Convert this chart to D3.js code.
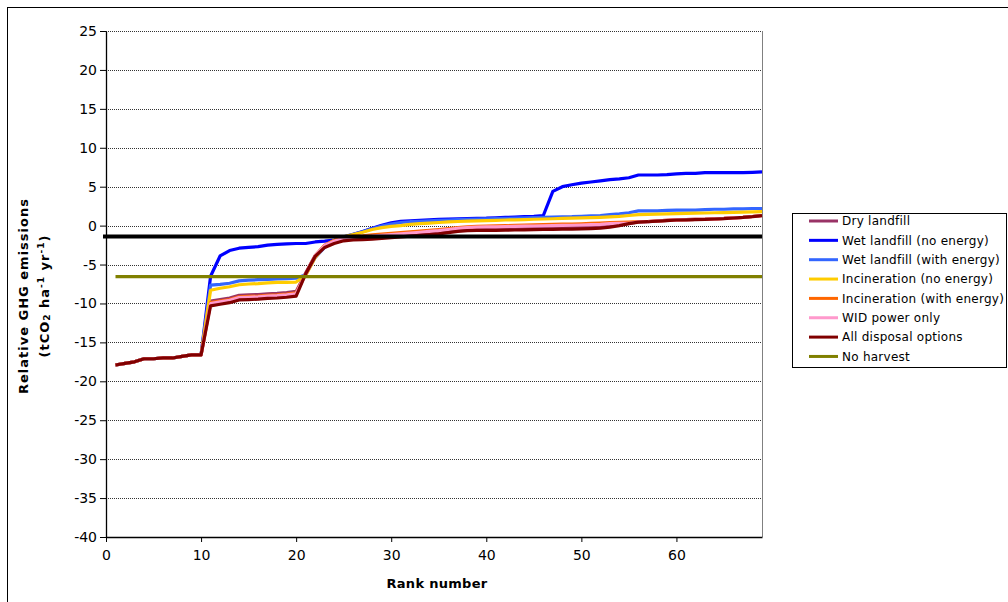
<!DOCTYPE html>
<html>
<head>
<meta charset="utf-8">
<script src="https://cdn.jsdelivr.net/npm/d3@7"></script>
<style>
  body { margin: 0; background: #fff; }
  svg { display: block; font-family: "DejaVu Sans", Verdana, sans-serif; }
</style>
</head>
<body>
<svg id="chart" width="1008" height="602"></svg>
<script>
// Rank numbers 1..69 on the horizontal axis
const ranks = d3.range(1, 70);

// Relative GHG emissions (tCO2 ha-1 yr-1) for each rank
const dryLandfill = [
  -17.9,-17.7,-17.5,-17.1,-17.1,-17.0,-17.0,-16.8,-16.6,-16.6,
  -9.7,-9.5,-9.3,-8.95,-8.9,-8.85,-8.75,-8.7,-8.6,-8.45,
  -6.1,-3.85,-2.6,-2.1,-1.7,-1.55,-1.5,-1.45,-1.35,-1.25,
  -1.15,-1.05,-0.95,-0.85,-0.75,-0.6,-0.45,-0.35,-0.3,-0.3,
  -0.3,-0.28,-0.26,-0.24,-0.22,-0.2,-0.18,-0.16,-0.15,-0.12,
  -0.08,-0.03,0.05,0.1,0.28,0.47,0.52,0.6,0.67,0.74,
  0.77,0.8,0.82,0.87,0.92,1.0,1.07,1.17,1.3
];
const wetLandfillNoEnergy = [
  -17.9,-17.7,-17.5,-17.1,-17.1,-17.0,-17.0,-16.8,-16.6,-16.6,
  -6.5,-3.9,-3.2,-2.9,-2.8,-2.7,-2.5,-2.4,-2.35,-2.3,
  -2.3,-2.1,-2.0,-1.85,-1.45,-1.1,-0.75,-0.35,0.05,0.35,
  0.55,0.62,0.68,0.75,0.8,0.85,0.88,0.9,0.93,0.95,
  1.0,1.05,1.1,1.15,1.2,1.3,4.4,5.0,5.25,5.45,
  5.6,5.75,5.9,6.0,6.15,6.5,6.5,6.5,6.55,6.65,
  6.7,6.7,6.8,6.8,6.8,6.8,6.8,6.85,6.9
];
const wetLandfillWithEnergy = [
  -17.9,-17.7,-17.5,-17.1,-17.1,-17.0,-17.0,-16.8,-16.6,-16.6,
  -7.65,-7.55,-7.4,-7.1,-7.0,-6.95,-6.9,-6.85,-6.8,-6.75,
  -6.3,-4.1,-2.8,-2.0,-1.5,-1.15,-0.8,-0.4,-0.05,0.2,
  0.4,0.5,0.55,0.62,0.67,0.72,0.76,0.8,0.83,0.86,
  0.9,0.93,0.96,1.0,1.03,1.07,1.1,1.13,1.15,1.2,
  1.25,1.3,1.4,1.5,1.65,1.9,1.9,1.9,1.95,2.0,
  2.0,2.0,2.05,2.1,2.1,2.15,2.15,2.2,2.2
];
const incinerationNoEnergy = [
  -17.9,-17.7,-17.5,-17.1,-17.1,-17.0,-17.0,-16.8,-16.6,-16.6,
  -8.3,-8.05,-7.85,-7.6,-7.5,-7.45,-7.35,-7.3,-7.3,-7.25,
  -6.4,-4.1,-2.6,-1.9,-1.45,-1.15,-0.85,-0.5,-0.25,-0.1,
  0.0,0.15,0.25,0.32,0.4,0.47,0.53,0.58,0.62,0.65,
  0.68,0.72,0.75,0.78,0.82,0.85,0.88,0.92,0.96,1.0,
  1.03,1.07,1.12,1.18,1.3,1.42,1.45,1.48,1.52,1.55,
  1.58,1.6,1.62,1.65,1.68,1.7,1.73,1.77,1.8
];
const incinerationWithEnergy = [
  -17.9,-17.7,-17.5,-17.1,-17.1,-17.0,-17.0,-16.8,-16.6,-16.6,
  -9.9,-9.7,-9.5,-9.15,-9.1,-9.05,-8.95,-8.9,-8.8,-8.65,
  -6.2,-3.9,-2.5,-1.9,-1.5,-1.35,-1.3,-1.2,-1.1,-1.0,
  -0.9,-0.8,-0.7,-0.6,-0.5,-0.38,-0.25,-0.15,-0.08,-0.05,
  -0.03,0.0,0.03,0.06,0.09,0.12,0.15,0.18,0.2,0.24,
  0.28,0.33,0.38,0.42,0.45,0.5,0.53,0.6,0.67,0.74,
  0.77,0.8,0.82,0.87,0.92,1.0,1.07,1.17,1.3
];
const widPowerOnly = [
  -17.9,-17.7,-17.5,-17.1,-17.1,-17.0,-17.0,-16.8,-16.6,-16.6,
  -10.0,-9.8,-9.6,-9.25,-9.2,-9.15,-9.05,-9.0,-8.9,-8.75,
  -6.2,-3.9,-2.55,-2.0,-1.6,-1.45,-1.4,-1.35,-1.25,-1.15,
  -1.05,-0.95,-0.85,-0.75,-0.65,-0.5,-0.35,-0.25,-0.2,-0.17,
  -0.15,-0.12,-0.1,-0.07,-0.05,-0.02,0.0,0.03,0.05,0.08,
  0.12,0.17,0.25,0.3,0.3,0.47,0.52,0.6,0.67,0.74,
  0.77,0.8,0.82,0.87,0.92,1.0,1.07,1.17,1.3
];
const allDisposalOptions = [
  -17.9,-17.7,-17.5,-17.1,-17.1,-17.0,-17.0,-16.8,-16.6,-16.6,
  -10.3,-10.1,-9.9,-9.55,-9.5,-9.45,-9.35,-9.3,-9.2,-9.05,
  -6.2,-3.95,-2.8,-2.3,-1.95,-1.85,-1.8,-1.75,-1.65,-1.55,
  -1.45,-1.35,-1.25,-1.15,-1.05,-0.9,-0.75,-0.65,-0.6,-0.6,
  -0.6,-0.58,-0.56,-0.54,-0.52,-0.5,-0.48,-0.46,-0.45,-0.42,
  -0.38,-0.33,-0.2,0.0,0.25,0.45,0.5,0.58,0.65,0.72,
  0.75,0.78,0.8,0.85,0.9,0.98,1.05,1.15,1.28
];
const noHarvest = [
  -6.56,-6.56,-6.56,-6.56,-6.56,-6.56,-6.56,-6.56,-6.56,-6.56,
  -6.56,-6.56,-6.56,-6.56,-6.56,-6.56,-6.56,-6.56,-6.56,-6.56,
  -6.56,-6.56,-6.56,-6.56,-6.56,-6.56,-6.56,-6.56,-6.56,-6.56,
  -6.56,-6.56,-6.56,-6.56,-6.56,-6.56,-6.56,-6.56,-6.56,-6.56,
  -6.56,-6.56,-6.56,-6.56,-6.56,-6.56,-6.56,-6.56,-6.56,-6.56,
  -6.56,-6.56,-6.56,-6.56,-6.56,-6.56,-6.56,-6.56,-6.56,-6.56,
  -6.56,-6.56,-6.56,-6.56,-6.56,-6.56,-6.56,-6.56,-6.56
];
// Current-practice reference level (heavy black line)
const referenceLevel = -1.4;

const seriesNames = [
  "Dry landfill", "Wet landfill (no energy)", "Wet landfill (with energy)",
  "Incineration (no energy)", "Incineration (with energy)", "WID power only",
  "All disposal options", "No harvest"
];
const seriesColors = ["#993366", "#0000ff", "#3366ff", "#ffcc00", "#ff6600", "#ff99cc", "#800000", "#808000"];
const seriesValues = [
  dryLandfill, wetLandfillNoEnergy, wetLandfillWithEnergy, incinerationNoEnergy,
  incinerationWithEnergy, widPowerOnly, allDisposalOptions, noHarvest
];

const yTicks = [-40, -35, -30, -25, -20, -15, -10, -5, 0, 5, 10, 15, 20, 25];
const xTicks = [0, 10, 20, 30, 40, 50, 60];

const svg = d3.select("#chart");
const plot = { left: 106, right: 762, top: 31, bottom: 537 };

const x = d3.scaleLinear().domain([0, 69]).range([plot.left, plot.right]);
const y = d3.scaleLinear().domain([-40, 25]).range([plot.bottom, plot.top]);

// Chart area frame
svg.append("rect")
  .attr("x", 7.5).attr("y", 7.5)
  .attr("width", 1040).attr("height", 640)
  .attr("fill", "none").attr("stroke", "#000").attr("stroke-width", 1);

// Dotted horizontal gridlines
svg.append("g")
  .selectAll("line")
  .data(yTicks.filter(d => d > -40))
  .join("line")
  .attr("x1", plot.left).attr("x2", plot.right)
  .attr("y1", d => Math.round(y(d)) + 0.5).attr("y2", d => Math.round(y(d)) + 0.5)
  .attr("stroke", "#333").attr("stroke-width", 1)
  .attr("stroke-dasharray", "1,1");

// Plot area right border
svg.append("line")
  .attr("x1", plot.right + 0.5).attr("x2", plot.right + 0.5)
  .attr("y1", plot.top).attr("y2", plot.bottom)
  .attr("stroke", "#808080").attr("stroke-width", 1);

// Axes
const yAxis = d3.axisLeft(y).tickValues(yTicks).tickSize(6).tickSizeOuter(0).tickPadding(3)
  .tickFormat(d => String(d));
const gy = svg.append("g").attr("transform", `translate(${plot.left},0)`).call(yAxis);

const xAxis = d3.axisBottom(x).tickValues(xTicks).tickSize(5).tickSizeOuter(0).tickPadding(8)
  .tickFormat(d => String(d));
const gx = svg.append("g").attr("transform", `translate(0,${plot.bottom})`).call(xAxis);

[gx, gy].forEach(g => {
  g.selectAll("text").attr("font-size", 14).attr("font-family", "'DejaVu Sans', Verdana, sans-serif").attr("fill", "#000");
  g.selectAll("line").attr("stroke", "#000");
  g.select(".domain").attr("stroke", "#000").attr("stroke-width", 1.3);
});

// Data lines
const line = d3.line()
  .x((d, i) => x(ranks[i]))
  .y(d => y(d));

svg.append("g")
  .selectAll("path")
  .data(seriesValues)
  .join("path")
  .attr("d", d => line(d))
  .attr("fill", "none")
  .attr("stroke", (d, i) => seriesColors[i])
  .attr("stroke-width", 3.2)
  .attr("stroke-linejoin", "round");

// Reference level
svg.append("line")
  .attr("x1", plot.left - 3).attr("x2", plot.right)
  .attr("y1", y(referenceLevel)).attr("y2", y(referenceLevel))
  .attr("stroke", "#000").attr("stroke-width", 4);

// Axis titles
svg.append("text")
  .attr("x", 437).attr("y", 588)
  .attr("text-anchor", "middle")
  .attr("font-size", 13).attr("font-weight", "bold").attr("letter-spacing", 0.3)
  .text("Rank number");

const yTitle1 = svg.append("text")
  .attr("transform", "translate(28,296) rotate(-90)")
  .attr("text-anchor", "middle")
  .attr("font-size", 13).attr("font-weight", "bold").attr("letter-spacing", 1)
  .text("Relative GHG emissions");

const yTitle2 = svg.append("text")
  .attr("transform", "translate(49,296) rotate(-90)")
  .attr("text-anchor", "middle")
  .attr("font-size", 13).attr("font-weight", "bold").attr("letter-spacing", 1);
yTitle2.append("tspan").text("(tCO");
yTitle2.append("tspan").attr("font-size", 9).attr("baseline-shift", "-1").text("2");
yTitle2.append("tspan").text(" ha");
yTitle2.append("tspan").attr("font-size", 9).attr("baseline-shift", "super").text("-1");
yTitle2.append("tspan").text(" yr");
yTitle2.append("tspan").attr("font-size", 9).attr("baseline-shift", "super").text("-1");
yTitle2.append("tspan").text(")");

// Legend
const legend = svg.append("g");
legend.append("rect")
  .attr("x", 792.5).attr("y", 213.5)
  .attr("width", 214).attr("height", 154)
  .attr("fill", "#fff").attr("stroke", "#000").attr("stroke-width", 1);

const rows = legend.selectAll("g.row")
  .data(seriesNames)
  .join("g")
  .attr("class", "row")
  .attr("transform", (d, i) => `translate(0,${221 + i * 19.35})`);

rows.append("line")
  .attr("x1", 809).attr("x2", 838)
  .attr("stroke", (d, i) => seriesColors[i])
  .attr("stroke-width", 3);

rows.append("text")
  .attr("x", 842).attr("dy", "0.36em")
  .attr("font-size", 12).attr("letter-spacing", 0.25)
  .text(d => d);
</script>
</body>
</html>
